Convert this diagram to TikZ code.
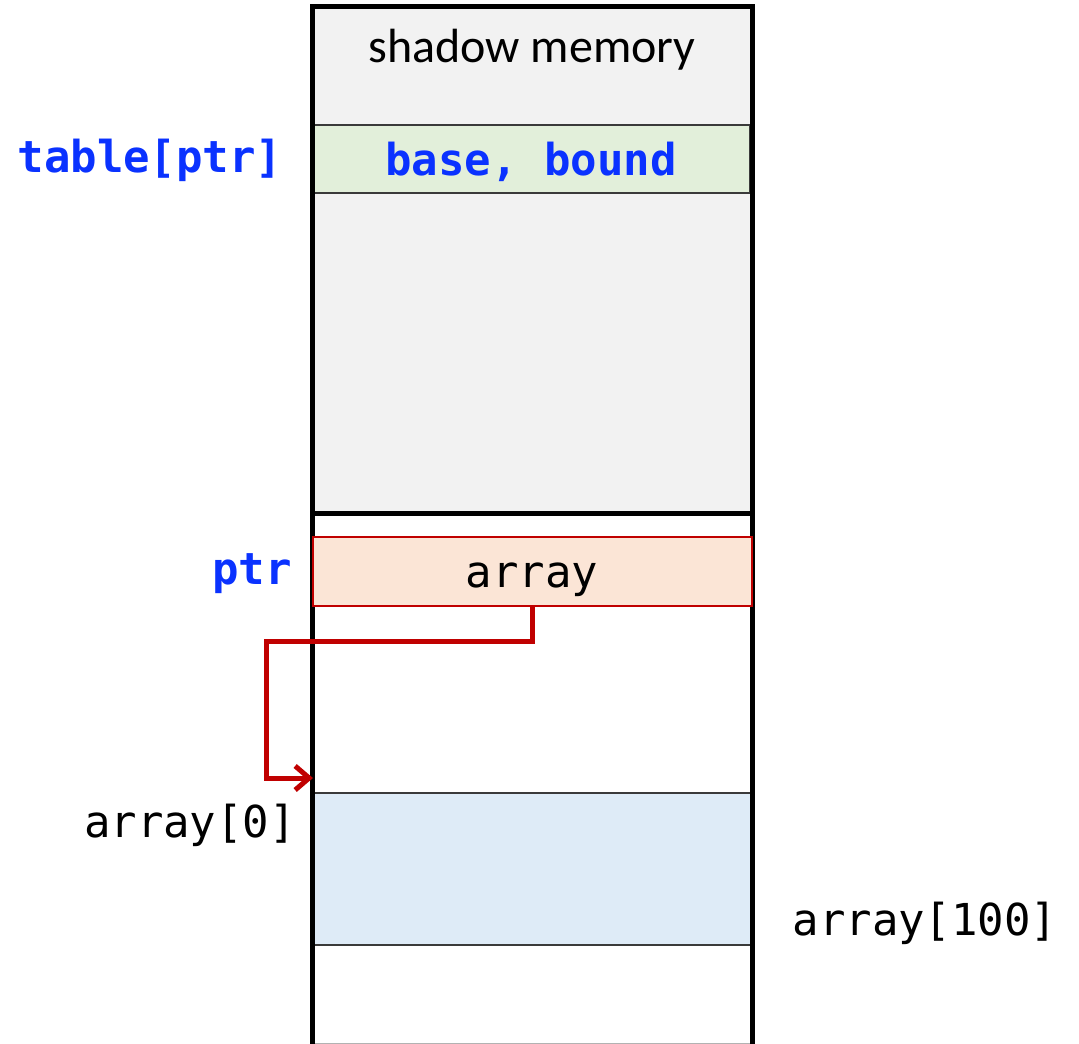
\documentclass[tikz,border=0pt]{standalone}
\usepackage{fontspec}
\setmainfont{Carlito}
\newfontfamily\monof{DejaVu Sans Mono}
\usetikzlibrary{arrows.meta}
\definecolor{shadowgray}{HTML}{F2F2F2}
\definecolor{greenband}{HTML}{E2EFDA}
\definecolor{ptrfill}{HTML}{FBE5D6}
\definecolor{ptrred}{HTML}{C00000}
\definecolor{arrfill}{HTML}{DEEBF7}
\definecolor{codeblue}{HTML}{0A32FF}
\definecolor{bandline}{HTML}{3A3A3A}
\begin{document}
\begin{tikzpicture}[x=1pt,y=-1pt,
  frame/.style={line width=5pt,draw=black},
  band/.style={draw=bandline,line width=1.5pt,inner sep=0pt,minimum width=437pt},
  monolabel/.style={font=\monof\fontsize{44}{50}\selectfont,inner sep=0pt,anchor=base},
  bluelabel/.style={monolabel,font=\monof\bfseries\fontsize{44}{50}\selectfont,text=codeblue},
  pointer/.style={draw=ptrred,line width=5pt,line join=miter,-{Straight Barb[length=14pt,width=24pt]}}]
\useasboundingbox (0,0) rectangle (1079,1044);
\fill[white] (0,0) rectangle (1079,1044);
% shadow memory region
\node[fill=shadowgray,inner sep=0pt,minimum width=439pt,minimum height=506pt] (shadow) at (532.5,260) {};
% lower memory
\node[fill=white,inner sep=0pt,minimum width=439pt,minimum height=531pt] (mem) at (532.5,778.5) {};
\draw[draw=gray!60,line width=1.5pt] (mem.south west) -- (mem.south east);
% bands
\node[band,fill=greenband,minimum height=68pt] (bounds) at (531.5,159) {};
\node[band,fill=arrfill,minimum height=152pt] (arrblock) at (532.5,869) {};
% frames
\draw[frame] (shadow.south west) rectangle (shadow.north east);
\draw[frame] (mem.north west) -- (mem.south west);
\draw[frame] (mem.north east) -- (mem.south east);
% pointer box
\node[draw=ptrred,fill=ptrfill,line width=2pt,inner sep=0pt,minimum width=439pt,minimum height=69pt] (ptrbox) at (532.5,571.5) {};
% texts
\node[anchor=base,inner sep=0pt,font=\fontsize{48}{56}\selectfont] (shadowlbl) at (532,62) {shadow memory};
\node[bluelabel] (boundlbl) at (531,175) {base, bound};
\node[bluelabel] (tablelbl) at (150,172) {table[ptr]};
\node[bluelabel] (ptrlbl) at (252,584) {ptr};
\node[monolabel] (arraylbl) at (532,587) {array};
\node[monolabel] (a0lbl) at (190,837) {array[0]};
\node[monolabel] (a100lbl) at (925,935) {array[100]};
% connector
\coordinate (tip) at (313,778);
\draw[pointer] (ptrbox.south) -- ++(0,34) -| (266,778) -- (tip);
\end{tikzpicture}
\end{document}
